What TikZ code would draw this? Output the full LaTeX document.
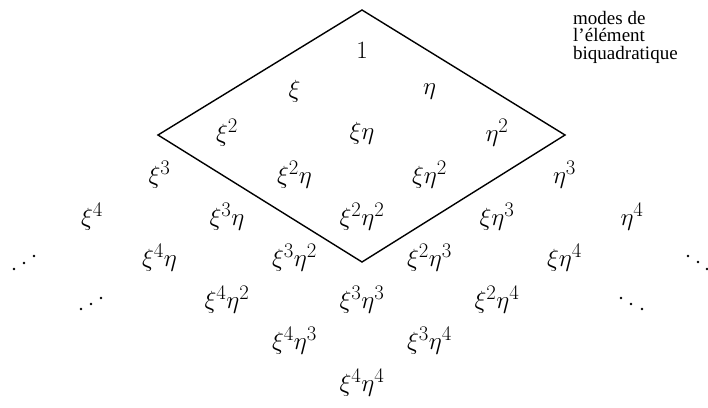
\documentclass[tikz,border=0pt]{standalone}
\usepackage{fontspec}
\setmainfont{Liberation Serif}
\begin{document}
\begin{tikzpicture}[x=1pt,y=-1pt,
  mono/.style={inner sep=0pt,font=\fontsize{28}{30}\selectfont},
  note/.style={inner sep=0pt,anchor=north west,align=left,font=\fontsize{19}{17.5}\selectfont},
  frame/.style={line width=1.4pt,line join=miter},
  dotmark/.style={fill=black}]
\useasboundingbox (0,0) rectangle (708,407);
\def\dx{67.5}
\def\dy{41.6}
% monomials
\node[mono] (m00) at (362,50) {$1$};
\node[mono] (m10) at (362-\dx,50+\dy) {$\xi$};
\node[mono] (m01) at (362+\dx,50+\dy) {$\eta$};
\node[mono] (m20) at (362-2*\dx,50+2*\dy) {$\xi^2$};
\node[mono] (m11) at (362,50+2*\dy) {$\xi\eta$};
\node[mono] (m02) at (362+2*\dx,50+2*\dy) {$\eta^2$};
\node[mono] (m30) at (362-3*\dx,50+3*\dy) {$\xi^3$};
\node[mono] (m21) at (362-\dx,50+3*\dy) {$\xi^2\eta$};
\node[mono] (m12) at (362+\dx,50+3*\dy) {$\xi\eta^2$};
\node[mono] (m03) at (362+3*\dx,50+3*\dy) {$\eta^3$};
\node[mono] (m40) at (362-4*\dx,50+4*\dy) {$\xi^4$};
\node[mono] (m31) at (362-2*\dx,50+4*\dy) {$\xi^3\eta$};
\node[mono] (m22) at (362,50+4*\dy) {$\xi^2\eta^2$};
\node[mono] (m13) at (362+2*\dx,50+4*\dy) {$\xi\eta^3$};
\node[mono] (m04) at (362+4*\dx,50+4*\dy) {$\eta^4$};
\node[mono] (m41) at (362-3*\dx,50+5*\dy) {$\xi^4\eta$};
\node[mono] (m32) at (362-\dx,50+5*\dy) {$\xi^3\eta^2$};
\node[mono] (m23) at (362+\dx,50+5*\dy) {$\xi^2\eta^3$};
\node[mono] (m14) at (362+3*\dx,50+5*\dy) {$\xi\eta^4$};
\node[mono] (m42) at (362-2*\dx,50+6*\dy) {$\xi^4\eta^2$};
\node[mono] (m33) at (362,50+6*\dy) {$\xi^3\eta^3$};
\node[mono] (m24) at (362+2*\dx,50+6*\dy) {$\xi^2\eta^4$};
\node[mono] (m43) at (362-\dx,50+7*\dy) {$\xi^4\eta^3$};
\node[mono] (m34) at (362+\dx,50+7*\dy) {$\xi^3\eta^4$};
\node[mono] (m44) at (362,50+8*\dy) {$\xi^4\eta^4$};
% continuation dots
\foreach \p in {(14,269),(24,263),(34,256),(81,309),(91,304),(101,298),
                (688,256),(698,262),(707,269),(621,298),(631,304),(642,309)}
  \fill[dotmark] \p circle (1.3);
% diamond
\coordinate (top) at (362,10);
\coordinate (lft) at (158,135);
\coordinate (rgt) at (565,135);
\coordinate (bot) at (362,262);
\draw[frame] (top) -- (lft) -- (bot) -- (rgt) -- cycle;
% caption
\node[note] (cap) at (573,11) {modes de\\l'élément\\biquadratique};
\end{tikzpicture}
\end{document}
